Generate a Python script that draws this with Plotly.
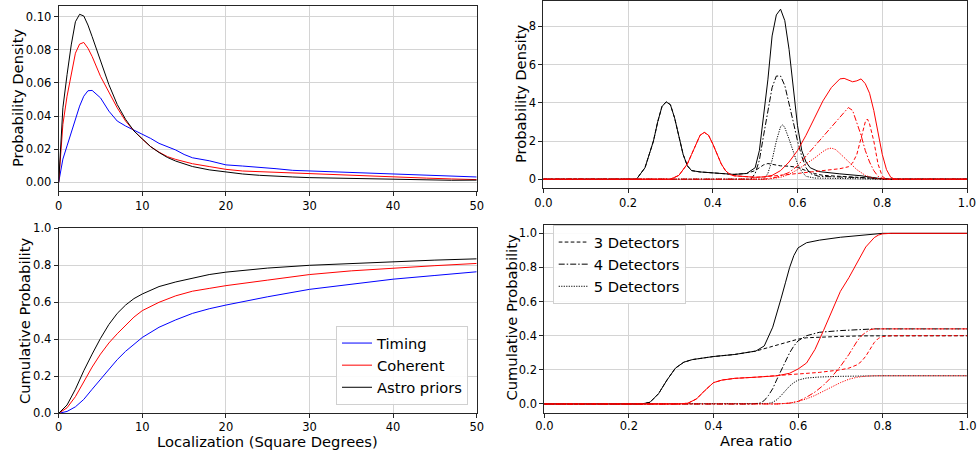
import plotly.graph_objects as go

# ---------------- Data ----------------
# Top-left: probability density vs localization (square degrees)
loc_x = [0, 0.5, 1, 1.5, 2, 2.5, 3, 3.5, 4, 5, 6, 7, 8, 9, 10, 11, 12, 13, 14, 15, 16,
         18, 20, 22, 24, 26, 28, 30, 33, 36, 40, 44, 47, 50]
pdf_timing = [0.0, 0.014, 0.022, 0.030, 0.039, 0.046, 0.052, 0.0553, 0.0555, 0.051, 0.043,
              0.037, 0.034, 0.0315, 0.0295, 0.0265, 0.0235, 0.0215, 0.0195, 0.0168, 0.0148,
              0.013, 0.0105, 0.0098, 0.0092, 0.0082, 0.0072, 0.0068, 0.0062, 0.0057, 0.0049,
              0.0044, 0.0035, 0.0032]
pdf_coherent = [0.0, 0.035, 0.052, 0.066, 0.078, 0.0835, 0.0845, 0.081, 0.076, 0.064, 0.054,
                0.045, 0.037, 0.031, 0.026, 0.0215, 0.0182, 0.0155, 0.0138, 0.0125, 0.0112,
                0.0095, 0.0078, 0.0068, 0.0064, 0.006, 0.0055, 0.005, 0.0043, 0.0037, 0.003,
                0.0025, 0.002, 0.0016]
pdf_astro = [0.0, 0.045, 0.065, 0.083, 0.097, 0.1015, 0.1005, 0.095, 0.088, 0.073, 0.059,
             0.047, 0.038, 0.031, 0.026, 0.0215, 0.018, 0.015, 0.0128, 0.011, 0.0095,
             0.0075, 0.0062, 0.005, 0.0042, 0.0035, 0.0032, 0.0028, 0.0025, 0.0022, 0.0018,
             0.0017, 0.0012, 0.0013]

# Bottom-left: cumulative probability vs localization
cdf_loc_x = [0, 1, 2, 3, 4, 5, 6, 7, 8, 9, 10, 12, 14, 16, 18, 20, 25, 30, 35, 40, 45, 50]
cdf_timing = [0, 0.01, 0.035, 0.075, 0.13, 0.185, 0.24, 0.29, 0.335, 0.375, 0.41, 0.465,
              0.505, 0.54, 0.565, 0.585, 0.63, 0.67, 0.698, 0.725, 0.745, 0.765]
cdf_coherent = [0, 0.03, 0.09, 0.17, 0.25, 0.32, 0.38, 0.43, 0.475, 0.52, 0.555, 0.6,
                0.635, 0.66, 0.675, 0.69, 0.72, 0.75, 0.77, 0.785, 0.798, 0.81]
cdf_astro = [0, 0.045, 0.13, 0.23, 0.32, 0.405, 0.48, 0.54, 0.585, 0.62, 0.645, 0.685,
             0.71, 0.73, 0.75, 0.763, 0.785, 0.80, 0.81, 0.82, 0.828, 0.835]

# Top-right: probability density vs area ratio
pdf_blk_all_x = [0, 0.22, 0.24, 0.26, 0.27, 0.28, 0.29, 0.30, 0.31, 0.32, 0.33, 0.34, 0.35,
                 0.37, 0.40, 0.45, 0.48, 0.50, 0.51, 0.52, 0.53, 0.54, 0.55, 0.56, 0.57, 0.58,
                 0.59, 0.60, 0.61, 0.62, 0.63, 0.65, 0.70, 0.75, 0.78, 0.80, 0.82, 1.0]
pdf_blk_all_y = [0, 0, 0.6, 2.0, 3.0, 3.8, 4.05, 3.9, 3.2, 2.2, 1.3, 0.7, 0.45, 0.38, 0.32,
                 0.25, 0.3, 0.6, 1.5, 3.2, 5.2, 7.5, 8.6, 8.9, 8.3, 6.8, 4.8, 2.8, 1.5, 0.9,
                 0.6, 0.4, 0.28, 0.18, 0.08, 0.02, 0, 0]
pdf_blk_3_x = [0, 0.22, 0.24, 0.26, 0.27, 0.28, 0.29, 0.30, 0.31, 0.32, 0.33, 0.34, 0.35,
               0.37, 0.40, 0.45, 0.48, 0.50, 0.52, 0.53, 0.54, 0.56, 0.58, 0.60, 0.62, 0.64,
               0.66, 0.70, 0.75, 0.78, 0.80, 0.82, 1.0]
pdf_blk_3_y = [0, 0, 0.6, 2.0, 3.0, 3.8, 4.05, 3.9, 3.2, 2.2, 1.3, 0.7, 0.45, 0.38, 0.32,
               0.25, 0.3, 0.45, 0.75, 0.82, 0.78, 0.7, 0.68, 0.62, 0.45, 0.3, 0.2, 0.15, 0.1,
               0.05, 0.01, 0, 0]
pdf_blk_4_x = [0, 0.49, 0.50, 0.51, 0.52, 0.53, 0.54, 0.55, 0.56, 0.57, 0.58, 0.59, 0.60,
               0.61, 0.62, 0.63, 0.65, 0.70, 0.75, 0.78, 0.80, 1.0]
pdf_blk_4_y = [0, 0, 0.3, 1.0, 2.3, 3.6, 4.8, 5.4, 5.4, 4.9, 4.0, 3.0, 2.0, 1.2, 0.6, 0.3,
               0.15, 0.12, 0.08, 0.03, 0, 0]
pdf_blk_5_x = [0, 0.52, 0.53, 0.54, 0.55, 0.56, 0.565, 0.57, 0.58, 0.59, 0.60, 0.61, 0.62,
               0.64, 0.70, 0.78, 0.80, 1.0]
pdf_blk_5_y = [0, 0, 0.3, 1.0, 2.0, 2.75, 2.85, 2.7, 2.1, 1.4, 0.8, 0.4, 0.15, 0.06, 0.04,
               0.02, 0, 0]
pdf_red_all_x = [0, 0.30, 0.32, 0.34, 0.35, 0.36, 0.37, 0.38, 0.39, 0.40, 0.41, 0.42, 0.43,
                 0.44, 0.45, 0.48, 0.50, 0.52, 0.54, 0.56, 0.58, 0.60, 0.62, 0.64, 0.66, 0.68,
                 0.70, 0.71, 0.72, 0.73, 0.74, 0.75, 0.76, 0.77, 0.78, 0.79, 0.80, 0.81, 0.82,
                 0.83, 1.0]
pdf_red_all_y = [0, 0, 0.2, 0.8, 1.3, 1.85, 2.3, 2.45, 2.3, 1.85, 1.3, 0.8, 0.45, 0.25, 0.18,
                 0.12, 0.1, 0.12, 0.2, 0.45, 0.9, 1.5, 2.3, 3.2, 4.1, 4.8, 5.25, 5.28, 5.2,
                 5.1, 5.15, 5.25, 5.0, 4.5, 3.6, 2.4, 1.3, 0.5, 0.1, 0, 0]
pdf_red_3_x = [0, 0.30, 0.32, 0.34, 0.35, 0.36, 0.37, 0.38, 0.39, 0.40, 0.41, 0.42, 0.43,
               0.44, 0.45, 0.48, 0.50, 0.52, 0.54, 0.56, 0.58, 0.60, 0.62, 0.65, 0.68, 0.70,
               0.72, 0.73, 0.74, 0.75, 0.76, 0.765, 0.77, 0.78, 0.79, 0.80, 0.81, 1.0]
pdf_red_3_y = [0, 0, 0.2, 0.8, 1.3, 1.85, 2.3, 2.45, 2.3, 1.85, 1.3, 0.8, 0.45, 0.25, 0.18,
               0.12, 0.1, 0.12, 0.15, 0.2, 0.25, 0.3, 0.35, 0.42, 0.5, 0.55, 0.65, 0.85, 1.3,
               2.2, 3.0, 3.15, 2.9, 2.0, 0.8, 0.15, 0, 0]
pdf_red_4_x = [0, 0.52, 0.55, 0.58, 0.60, 0.62, 0.64, 0.66, 0.68, 0.70, 0.71, 0.72, 0.73,
               0.74, 0.75, 0.76, 0.77, 0.78, 0.79, 0.80, 0.81, 1.0]
pdf_red_4_y = [0, 0, 0.1, 0.35, 0.7, 1.2, 1.7, 2.2, 2.7, 3.2, 3.5, 3.75, 3.6, 3.0, 2.3, 1.5,
               0.9, 0.45, 0.15, 0.05, 0, 0]
pdf_red_5_x = [0, 0.53, 0.56, 0.58, 0.60, 0.62, 0.64, 0.66, 0.67, 0.68, 0.69, 0.70, 0.72,
               0.74, 0.76, 0.78, 0.80, 1.0]
pdf_red_5_y = [0, 0, 0.1, 0.25, 0.5, 0.8, 1.1, 1.45, 1.58, 1.63, 1.55, 1.35, 0.9, 0.5, 0.2,
               0.05, 0, 0]

# Bottom-right: cumulative probability vs area ratio
cdf_blk_all_x = [0, 0.23, 0.25, 0.27, 0.29, 0.31, 0.33, 0.35, 0.40, 0.45, 0.50, 0.52, 0.54,
                 0.55, 0.56, 0.57, 0.58, 0.59, 0.60, 0.62, 0.65, 0.70, 0.75, 0.80, 1.0]
cdf_blk_all_y = [0, 0, 0.01, 0.06, 0.14, 0.21, 0.245, 0.26, 0.278, 0.29, 0.31, 0.34, 0.45,
                 0.53, 0.62, 0.71, 0.80, 0.87, 0.915, 0.945, 0.96, 0.977, 0.99, 1.0, 1.0]
cdf_blk_3_x = [0, 0.23, 0.25, 0.27, 0.29, 0.31, 0.33, 0.35, 0.40, 0.45, 0.50, 0.52, 0.54,
               0.56, 0.58, 0.60, 0.62, 0.65, 0.70, 0.75, 0.80, 1.0]
cdf_blk_3_y = [0, 0, 0.01, 0.06, 0.14, 0.21, 0.245, 0.26, 0.278, 0.29, 0.31, 0.322, 0.338,
               0.352, 0.366, 0.38, 0.388, 0.392, 0.396, 0.399, 0.40, 0.40]
cdf_blk_4_x = [0, 0.49, 0.51, 0.52, 0.53, 0.54, 0.55, 0.56, 0.57, 0.58, 0.59, 0.60, 0.62,
               0.65, 0.70, 0.75, 0.78, 1.0]
cdf_blk_4_y = [0, 0, 0.005, 0.02, 0.05, 0.09, 0.145, 0.2, 0.255, 0.3, 0.34, 0.37, 0.40,
               0.42, 0.43, 0.437, 0.44, 0.44]
cdf_blk_5_x = [0, 0.52, 0.53, 0.54, 0.55, 0.56, 0.57, 0.58, 0.59, 0.60, 0.62, 0.65, 0.70,
               0.80, 1.0]
cdf_blk_5_y = [0, 0, 0.003, 0.01, 0.025, 0.05, 0.08, 0.105, 0.125, 0.14, 0.152, 0.158,
               0.162, 0.165, 0.165]
cdf_red_all_x = [0, 0.32, 0.34, 0.36, 0.38, 0.40, 0.42, 0.45, 0.50, 0.55, 0.58, 0.60, 0.62,
                 0.64, 0.66, 0.68, 0.70, 0.72, 0.74, 0.76, 0.78, 0.79, 0.80, 0.82, 1.0]
cdf_red_all_y = [0, 0, 0.005, 0.03, 0.08, 0.125, 0.14, 0.15, 0.157, 0.165, 0.18, 0.205,
                 0.24, 0.32, 0.43, 0.54, 0.66, 0.74, 0.83, 0.92, 0.975, 0.99, 0.997, 1.0, 1.0]
cdf_red_3_x = [0, 0.32, 0.34, 0.36, 0.38, 0.40, 0.42, 0.45, 0.50, 0.55, 0.60, 0.65, 0.70,
               0.72, 0.74, 0.75, 0.76, 0.77, 0.78, 0.79, 0.80, 0.82, 1.0]
cdf_red_3_y = [0, 0, 0.005, 0.03, 0.08, 0.125, 0.14, 0.15, 0.157, 0.165, 0.175, 0.185, 0.2,
               0.21, 0.23, 0.25, 0.28, 0.32, 0.36, 0.385, 0.395, 0.40, 0.40]
cdf_red_4_x = [0, 0.55, 0.58, 0.60, 0.62, 0.64, 0.66, 0.68, 0.70, 0.72, 0.74, 0.75, 0.76,
               0.77, 0.78, 1.0]
cdf_red_4_y = [0, 0, 0.005, 0.015, 0.04, 0.07, 0.11, 0.16, 0.22, 0.29, 0.37, 0.40, 0.42,
               0.435, 0.44, 0.44]
cdf_red_5_x = [0, 0.55, 0.58, 0.60, 0.62, 0.64, 0.66, 0.68, 0.70, 0.72, 0.74, 0.76, 0.78, 1.0]
cdf_red_5_y = [0, 0, 0.005, 0.015, 0.03, 0.05, 0.075, 0.1, 0.125, 0.145, 0.157, 0.163,
               0.165, 0.165]

tick_loc = [0, 10, 20, 30, 40, 50]
tick_ratio = [0.0, 0.2, 0.4, 0.6, 0.8, 1.0]
tick_pdf_loc = [0.00, 0.02, 0.04, 0.06, 0.08, 0.10]
tick_pdf_ratio = [0, 2, 4, 6, 8]
tick_cdf = [0.0, 0.2, 0.4, 0.6, 0.8, 1.0]

# ---------------- Styling ----------------
FONT = "DejaVu Sans"
BLUE, RED, BLACK = "#0000ff", "#ff0000", "#000000"
SOLID = "solid"
DASH = "3.7px,2.3px"
DASHDOT = "6px,2px,1.5px,2px"
DOT = "1.2px,1.3px"
LW = 1.0

fig = go.Figure()


def add(x, y, color, dash, xa, ya, name=None, legend=None):
    fig.add_trace(go.Scatter(
        x=x, y=y, mode="lines", xaxis=xa, yaxis=ya,
        line=dict(color=color, width=LW, dash=dash),
        name=name or "", showlegend=legend is not None,
        legend=legend or "legend", hoverinfo="skip"))


# top-left
add(loc_x, pdf_timing, BLUE, SOLID, "x", "y")
add(loc_x, pdf_coherent, RED, SOLID, "x", "y")
add(loc_x, pdf_astro, BLACK, SOLID, "x", "y")
# bottom-left
add(cdf_loc_x, cdf_timing, BLUE, SOLID, "x3", "y3", "Timing", "legend")
add(cdf_loc_x, cdf_coherent, RED, SOLID, "x3", "y3", "Coherent", "legend")
add(cdf_loc_x, cdf_astro, BLACK, SOLID, "x3", "y3", "Astro priors", "legend")
# top-right
add(pdf_blk_all_x, pdf_blk_all_y, BLACK, SOLID, "x2", "y2")
add(pdf_blk_3_x, pdf_blk_3_y, BLACK, DASH, "x2", "y2")
add(pdf_blk_4_x, pdf_blk_4_y, BLACK, DASHDOT, "x2", "y2")
add(pdf_blk_5_x, pdf_blk_5_y, BLACK, DOT, "x2", "y2")
add(pdf_red_all_x, pdf_red_all_y, RED, SOLID, "x2", "y2")
add(pdf_red_3_x, pdf_red_3_y, RED, DASH, "x2", "y2")
add(pdf_red_4_x, pdf_red_4_y, RED, DASHDOT, "x2", "y2")
add(pdf_red_5_x, pdf_red_5_y, RED, DOT, "x2", "y2")
# bottom-right
add(cdf_blk_all_x, cdf_blk_all_y, BLACK, SOLID, "x4", "y4")
add(cdf_blk_3_x, cdf_blk_3_y, BLACK, DASH, "x4", "y4", "3 Detectors", "legend2")
add(cdf_blk_4_x, cdf_blk_4_y, BLACK, DASHDOT, "x4", "y4", "4 Detectors", "legend2")
add(cdf_blk_5_x, cdf_blk_5_y, BLACK, DOT, "x4", "y4", "5 Detectors", "legend2")
add(cdf_red_all_x, cdf_red_all_y, RED, SOLID, "x4", "y4")
add(cdf_red_3_x, cdf_red_3_y, RED, DASH, "x4", "y4")
add(cdf_red_4_x, cdf_red_4_y, RED, DASHDOT, "x4", "y4")
add(cdf_red_5_x, cdf_red_5_y, RED, DOT, "x4", "y4")

W, H = 979, 451


def px_x(p):
    return p / W


def px_y(p):
    return 1 - p / H


def axis(domain, rng, tickvals, fmt, anchor, standoff=None):
    d = dict(domain=domain, range=rng, tickvals=tickvals, tickformat=fmt,
             anchor=anchor, automargin=False, showgrid=True, gridcolor="#d4d4d4",
             gridwidth=1, zeroline=False, showline=True, mirror=True,
             linecolor="#262626", linewidth=1, ticks="outside", ticklen=4,
             tickwidth=1, tickcolor="#262626",
             tickfont=dict(family=FONT, size=11.5, color="#000000"))
    if standoff is not None:
        d["ticklabelstandoff"] = standoff
    return d


fig.update_layout(
    template="none",
    width=W, height=H, margin=dict(l=0, r=0, t=0, b=0, pad=0), autosize=False,
    paper_bgcolor="white", plot_bgcolor="white",
    font=dict(family=FONT, color="#000000"),
    xaxis=axis([px_x(58.7), px_x(476.7)], [0, 50], tick_loc, "d", "y"),
    yaxis=axis([px_y(190.7), px_y(5.7)], [-0.0051, 0.1067], tick_pdf_loc, ".2f", "x"),
    xaxis2=axis([px_x(543.3), px_x(967)], [0, 1], tick_ratio, ".1f", "y2"),
    yaxis2=axis([px_y(187.7), px_y(0.7)], [-0.445, 9.345], tick_pdf_ratio, "d", "x2"),
    xaxis3=axis([px_x(58.7), px_x(476.7)], [0, 50], tick_loc, "d", "y3", -1),
    yaxis3=axis([px_y(413.3), px_y(228.3)], [0, 1], tick_cdf, ".1f", "x3"),
    xaxis4=axis([px_x(544.3), px_x(967.3)], [0, 1], tick_ratio, ".1f", "y4", -1),
    yaxis4=axis([px_y(412.5), px_y(224.8)], [-0.05, 1.05], tick_cdf, ".1f", "x4"),
    legend=dict(x=px_x(468), y=px_y(405), xanchor="right", yanchor="bottom",
                bgcolor="rgba(255,255,255,0.9)", bordercolor="#d0d0d0", borderwidth=1,
                font=dict(family=FONT, size=14.7, color="#000000"),
                itemwidth=30, tracegroupgap=0),
    legend2=dict(x=px_x(552.7), y=px_y(225), xanchor="left", yanchor="top",
                 bgcolor="rgba(255,255,255,0.9)", bordercolor="#d0d0d0", borderwidth=1,
                 font=dict(family=FONT, size=14.7, color="#000000"),
                 itemwidth=30, tracegroupgap=0),
)

title_font = dict(family=FONT, size=14.7, color="#000000")
annotations = [
    dict(text="Probability Density", x=px_x(17), y=px_y(98), textangle=-90),
    dict(text="Probability Density", x=px_x(520), y=px_y(94), textangle=-90),
    dict(text="Cumulative Probability", x=px_x(24), y=px_y(321), textangle=-90),
    dict(text="Cumulative Probability", x=px_x(510.5), y=px_y(318), textangle=-90),
    dict(text="Localization (Square Degrees)", x=px_x(267.7), y=px_y(441.5), textangle=0),
    dict(text="Area ratio", x=px_x(755.5), y=px_y(440.5), textangle=0),
]
for a in annotations:
    fig.add_annotation(xref="paper", yref="paper", xanchor="center", yanchor="middle",
                       showarrow=False, font=title_font, **a)

fig.write_html(
    "out.html",
    config={"displayModeBar": False},
    post_script="document.body.style.margin='0px';document.body.style.padding='0px';"
                "document.documentElement.style.overflow='hidden';",
)
